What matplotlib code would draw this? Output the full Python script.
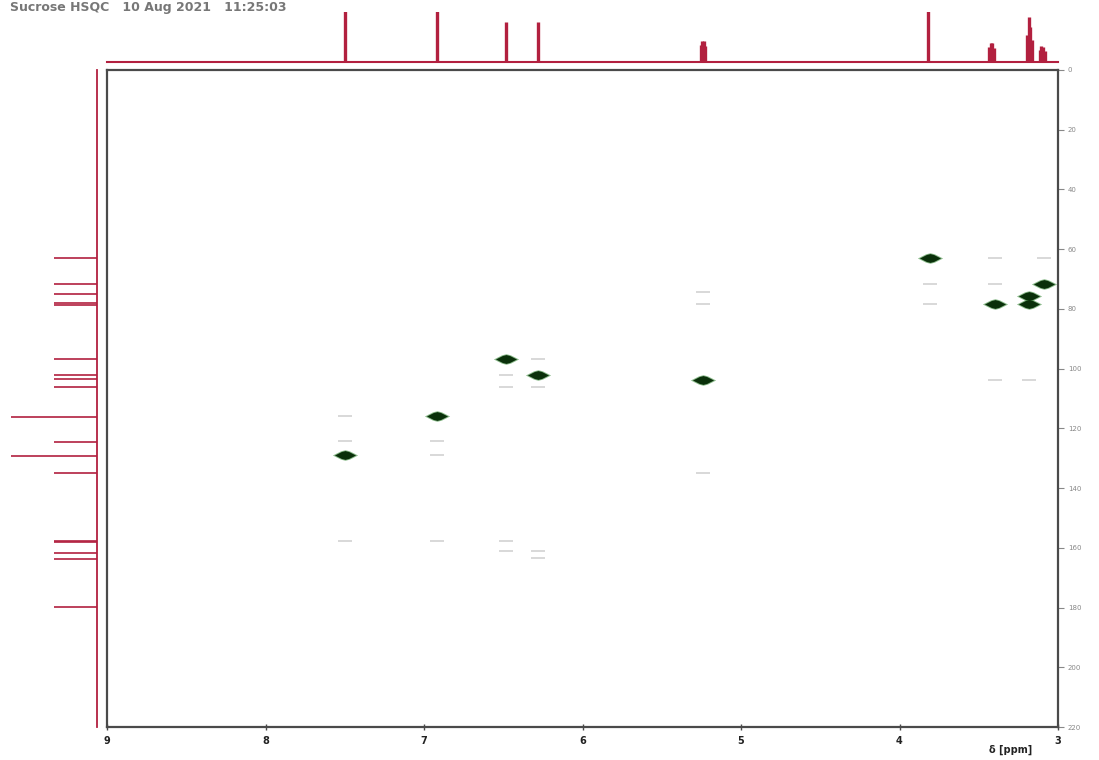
import matplotlib.pyplot as plt

# 1H projection (top trace): peak positions (ppm) and relative heights
h1_ppm = [7.50, 6.92, 6.48, 6.28,
          5.255, 5.245, 5.235, 5.225,
          3.82,
          3.435, 3.425, 3.415, 3.405,
          3.195, 3.185, 3.175, 3.165,
          3.115, 3.105, 3.095, 3.085]
h1_int = [1.3, 1.3, 0.8, 0.8,
          0.35, 0.43, 0.42, 0.33,
          1.3,
          0.30, 0.39, 0.38, 0.28,
          0.55, 0.90, 0.70, 0.45,
          0.25, 0.33, 0.30, 0.22]

# 13C projection (left trace): shifts (ppm) and relative heights
c13_ppm = [63.0, 71.7, 75.0, 78.0, 78.6, 96.8, 102.1, 103.5, 106.2,
           116.2, 124.6, 129.3, 135.0, 157.6, 158.0, 161.8, 163.8, 179.8]
c13_int = [1, 1, 1, 1, 1, 1, 1, 1, 1,
           2, 1, 2, 1, 1, 1, 1, 1, 1]

# HSQC cross peaks (1H ppm, 13C ppm)
peak_h = [7.50, 6.92, 6.48, 6.28, 5.24, 3.81, 3.40, 3.18, 3.18, 3.09]
peak_c = [128.9, 115.9, 96.8, 102.1, 103.8, 63.0, 78.4, 75.7, 78.4, 71.7]

# faint artefact contours
ghost_h = [7.50, 7.50, 7.50, 6.92, 6.92, 6.92,
           6.48, 6.48, 6.48, 6.48, 6.28, 6.28, 6.28, 6.28,
           5.24, 5.24, 5.24, 3.81, 3.81,
           3.40, 3.40, 3.40, 3.18, 3.09]
ghost_c = [115.9, 124.2, 157.7, 124.2, 128.9, 157.7,
           102.1, 106.2, 157.7, 161.0, 96.8, 106.2, 161.0, 163.4,
           74.3, 78.4, 135.0, 71.7, 78.4,
           63.0, 71.7, 103.8, 103.8, 63.0]

x_ticks = [9, 8, 7, 6, 5, 4, 3]
y_ticks = [0, 20, 40, 60, 80, 100, 120, 140, 160, 180, 200, 220]

red = '#b2203f'
frame = '#4a4a4a'

fig = plt.figure(figsize=(10.99, 7.6), dpi=100)

L, R = 107 / 1099, 1058 / 1099
B, T = 1 - 727 / 760, 1 - 70 / 760

# main 2D panel
ax = fig.add_axes([L, B, R - L, T - B])
ax.set_xlim(9, 3)
ax.set_ylim(220, 0)
for s in ax.spines.values():
    s.set_color(frame)
    s.set_linewidth(1.6)
ax.yaxis.tick_right()
ax.set_xticks(x_ticks)
ax.set_xticklabels([str(t) for t in x_ticks], fontsize=7, fontweight='bold')
ax.set_yticks(y_ticks)
ax.set_yticklabels([str(t) for t in y_ticks], fontsize=5)
ax.tick_params(axis='x', direction='inout', length=5, width=1, colors=frame,
               labelcolor='#222222', pad=4)
ax.tick_params(axis='y', direction='out', length=4, width=0.8, colors='#888888', pad=3)
ax.text(0.973, -0.027, 'δ [ppm]', transform=ax.transAxes, ha='right', va='top',
        fontsize=7, fontweight='bold', color='#222222')

ghost_marker = [(-1, -0.14), (1, -0.14), (1, 0.14), (-1, 0.14), (-1, -0.14)]
ax.scatter(ghost_h, ghost_c, marker=ghost_marker, s=110, color='#d9d9d9',
           linewidths=0, zorder=2)

diamond = [(-1, 0), (-0.35, 0.33), (0, 0.42), (0.35, 0.33), (1, 0),
           (0.35, -0.33), (0, -0.42), (-0.35, -0.33), (-1, 0)]
ax.scatter(peak_h, peak_c, marker=diamond, s=330, color='#3f8f3f',
           linewidths=0, alpha=0.6, zorder=3)
ax.scatter(peak_h, peak_c, marker=diamond, s=230, color='#0a300a',
           linewidths=0, zorder=4)

# top 1H projection
top_b = 1 - 62 / 760
ax_top = fig.add_axes([L, top_b, R - L, 50 / 760])
ax_top.set_xlim(9, 3)
ax_top.set_ylim(0, 1)
ax_top.axis('off')
ax_top.axhline(0, color=red, lw=1.5, clip_on=False)
ax_top.vlines(h1_ppm, 0, h1_int, color=red, lw=2.4)

# left 13C projection
ax_left = fig.add_axes([0, B, 97 / 1099, T - B])
ax_left.set_ylim(220, 0)
ax_left.set_xlim(-2.2, 0)
ax_left.axis('off')
ax_left.axvline(0, color=red, lw=1.3, clip_on=False)
ax_left.hlines(c13_ppm, [-0.97 * v for v in c13_int], 0, color=red, lw=1.2)

fig.text(10 / 1099, 1 - 8 / 760, 'Sucrose HSQC   10 Aug 2021   11:25:03',
         fontsize=9, fontweight='bold', color='#777777', va='center', ha='left')

fig.savefig('out.png', dpi=100)
